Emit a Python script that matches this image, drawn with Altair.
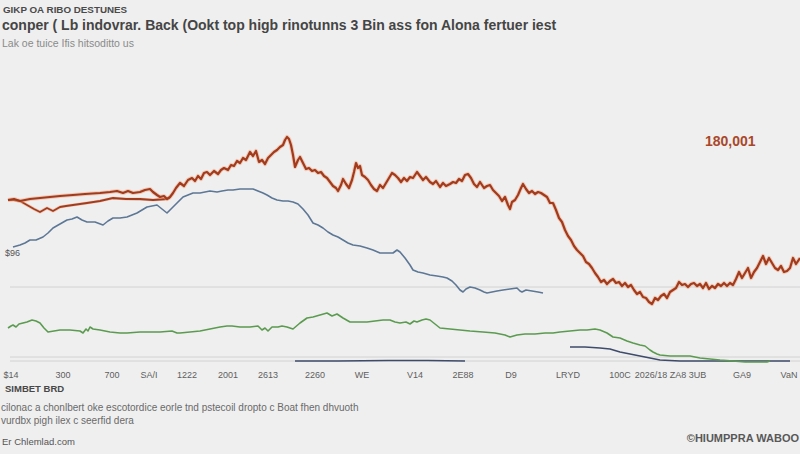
import altair as alt
import pandas as pd

# ---- series: (t, value) pairs -------------------------------------------
copper = [
    (0, 162), (6, 163), (12, 161), (22, 163), (32, 164), (42, 165), (52, 166), (65, 167),
    (77, 168), (92, 169), (102, 170), (109, 171), (115, 169), (120, 171), (125, 169),
    (132, 170), (137, 172), (142, 173), (145, 170), (149, 167), (152, 165), (156, 166),
    (159, 163), (162, 165), (165, 169), (168, 174), (172, 179), (176, 176), (180, 182),
    (184, 184), (187, 181), (190, 186), (193, 183), (196, 189), (199, 190), (202, 187),
    (206, 191), (210, 188), (213, 192), (216, 194), (220, 192), (223, 197), (226, 196),
    (229, 201), (232, 199), (235, 204), (238, 202), (242, 210), (245, 206), (248, 211),
    (251, 200), (254, 202), (257, 198), (260, 204), (263, 207), (266, 210), (269, 212),
    (272, 215), (275, 217), (277, 222), (279, 225), (281, 223), (283, 217), (285, 207),
    (287, 195), (290, 202), (292, 205), (295, 199), (298, 193), (301, 194), (304, 191),
    (307, 192), (310, 189), (313, 190), (316, 186), (319, 184), (322, 180), (325, 176),
    (328, 174), (330, 171), (333, 177), (335, 183), (338, 178), (341, 174), (344, 182),
    (346, 190), (348, 199), (350, 194), (352, 196), (354, 187), (357, 185), (360, 182),
    (363, 177), (366, 173), (369, 171), (372, 177), (375, 174), (378, 179), (381, 184),
    (384, 189), (387, 187), (390, 184), (393, 180), (396, 184), (399, 181), (402, 185),
    (405, 184), (409, 190), (412, 186), (415, 182), (418, 185), (422, 180), (425, 178),
    (428, 181), (432, 175), (435, 179), (438, 176), (442, 178), (445, 180), (448, 179),
    (451, 183), (454, 181), (457, 187), (460, 188), (463, 184), (466, 178), (469, 175),
    (472, 180), (476, 174), (479, 176), (482, 177), (485, 172), (488, 169), (491, 166),
    (494, 161), (497, 165), (500, 157), (502, 153), (504, 160), (507, 162), (510, 167),
    (513, 174), (515, 178), (518, 173), (521, 169), (524, 171), (527, 168), (530, 170),
    (533, 169), (536, 167), (539, 165), (542, 159), (545, 159), (548, 152), (551, 144),
    (554, 140), (557, 132), (560, 126), (563, 122), (566, 116), (569, 112), (572, 109),
    (575, 106), (578, 100), (581, 98), (584, 94), (587, 89), (590, 85), (593, 80),
    (596, 82), (599, 78), (602, 81), (605, 83), (608, 79), (611, 80), (614, 76), (617, 79),
    (620, 75), (623, 77), (626, 72), (629, 68), (632, 70), (635, 65), (638, 64), (641, 60),
    (644, 58), (647, 64), (650, 62), (653, 66), (656, 68), (659, 64), (662, 70), (665, 72),
    (668, 74), (671, 80), (674, 77), (677, 78), (680, 75), (683, 78), (686, 79), (689, 76),
    (692, 78), (695, 74), (698, 79), (701, 73), (704, 76), (707, 74), (710, 78), (713, 76),
    (716, 79), (719, 76), (722, 79), (725, 77), (728, 83), (731, 90), (734, 84), (737, 89),
    (740, 94), (743, 84), (746, 90), (749, 94), (752, 100), (755, 106), (758, 98),
    (761, 104), (764, 99), (767, 94), (770, 92), (773, 96), (776, 90), (779, 91),
    (782, 94), (785, 104), (788, 98), (792, 104),
]

copper_early = [
    (0, 162), (6, 162), (12, 161), (19, 157), (26, 153), (32, 150), (39, 154), (45, 151),
    (52, 155), (58, 156), (65, 157), (72, 158), (79, 159), (92, 161), (105, 164),
    (118, 163), (132, 163), (145, 162), (158, 163), (162, 164),
]

alloy = [
    (5, 115), (12, 117), (17, 119), (22, 122), (28, 122), (35, 125), (40, 129), (45, 134),
    (52, 138), (59, 142), (64, 143), (69, 145), (74, 142), (79, 140), (87, 140), (95, 137),
    (100, 141), (105, 144), (112, 144), (119, 145), (124, 147), (129, 149), (134, 152),
    (139, 155), (144, 156), (149, 157), (154, 153), (159, 149), (164, 154), (169, 159),
    (175, 165), (180, 167), (185, 169), (192, 169), (197, 170), (202, 171), (209, 170),
    (214, 171), (220, 172), (225, 172), (232, 173), (239, 173), (245, 173), (250, 171),
    (255, 169), (259, 167), (264, 164), (269, 162), (275, 161), (280, 161), (285, 160),
    (290, 158), (295, 153), (300, 147), (305, 139), (310, 137), (315, 134), (320, 130),
    (325, 127), (330, 125), (335, 122), (340, 119), (345, 117), (352, 116), (359, 114),
    (365, 112), (372, 109), (378, 109), (385, 109), (389, 112), (392, 110), (397, 104),
    (402, 97), (405, 92), (410, 90), (415, 89), (422, 87), (429, 86), (435, 85), (439, 84),
    (444, 81), (448, 77), (452, 72), (455, 70), (458, 73), (462, 75), (467, 74), (472, 72),
    (476, 70), (479, 69), (484, 70), (489, 71), (495, 72), (502, 73), (509, 74), (512, 71),
    (514, 70), (518, 72), (524, 71), (530, 70), (535, 69),
]

scrap = [
    (0, 34), (3, 36), (5, 37), (8, 35), (11, 38), (15, 39), (19, 40), (24, 42), (28, 41),
    (32, 39), (36, 34), (40, 30), (46, 31), (52, 32), (62, 32), (72, 31), (75, 29), (78, 33),
    (80, 31), (82, 35), (85, 33), (92, 32), (102, 30), (112, 29), (119, 29), (132, 30),
    (142, 30), (152, 30), (164, 31), (169, 29), (172, 29), (182, 30), (192, 31), (202, 33),
    (212, 35), (219, 36), (224, 36), (232, 35), (242, 35), (250, 36), (254, 32), (257, 34),
    (260, 31), (264, 35), (270, 35), (274, 36), (279, 35), (285, 33), (292, 39), (299, 44),
    (305, 45), (312, 47), (319, 49), (324, 46), (329, 48), (335, 44), (342, 40), (350, 40),
    (359, 40), (367, 41), (375, 42), (382, 42), (387, 40), (392, 39), (398, 40), (402, 38),
    (406, 41), (409, 40), (414, 42), (418, 43), (422, 42), (427, 38), (432, 34), (442, 33),
    (452, 32), (462, 31), (475, 30), (487, 29), (497, 27), (502, 25), (509, 27), (517, 28),
    (527, 28), (537, 29), (545, 29), (552, 30), (562, 31), (572, 32), (579, 32), (587, 33),
    (592, 32), (599, 29), (605, 25), (612, 24), (619, 21), (625, 19), (632, 17), (637, 16),
    (642, 12), (645, 10), (649, 8), (652, 7), (662, 6), (672, 6), (682, 6), (692, 4),
    (702, 3), (712, 2), (725, 1), (737, 0), (747, 0), (759, 0), (762, 1),
]

stock = [(287, 1), (330, 1), (380, 1.5), (420, 1.5), (457, 1)]

stock_late = [
    (562, 15), (577, 15), (592, 14), (602, 13), (612, 10), (622, 8), (632, 6), (642, 4),
    (652, 2), (672, 1), (692, 1), (742, 1), (782, 1),
]

benchmark = [(105, 163), (130, 162), (157, 162)]

grid_values = [1, 5, 75]

tick_pos = [3, 55, 104, 141, 179, 220, 260, 307, 354, 407, 455, 503, 560, 612, 643, 680, 734, 781]
tick_labels = ["$14", "300", "700", "SA/I", "1222", "2001", "2613", "2260", "WE", "V14",
               "2E88", "D9", "LRYD", "100C", "2026/18", "ZA8 3UB", "GA9", "VaN"]

FONT = "Liberation Sans"
W, H = 792, 300

x_scale = alt.Scale(domain=[0, 792], nice=False, zero=False)
y_scale = alt.Scale(domain=[0, 300], nice=False, zero=False)


def frame(points):
    return pd.DataFrame({"t": [p[0] for p in points], "v": [p[1] for p in points]})


def line(points, color, width, opacity=1.0):
    return alt.Chart(frame(points)).mark_line(
        color=color, strokeWidth=width, opacity=opacity, strokeJoin="round", clip=False
    ).encode(
        x=alt.X("t:Q", scale=x_scale, axis=None),
        y=alt.Y("v:Q", scale=y_scale, axis=None),
    )


def label(text, x, y, size, color, weight="normal", align="left"):
    return alt.Chart(pd.DataFrame({"s": [text]})).mark_text(
        align=align, baseline="middle", fontSize=size, fontWeight=weight,
        color=color, font=FONT, clip=False
    ).encode(x=alt.value(x), y=alt.value(y), text="s:N")


grid = alt.Chart(pd.DataFrame({"v": grid_values})).mark_rule(
    color="#d2d2d2", strokeWidth=1
).encode(y=alt.Y("v:Q", scale=y_scale, axis=None), x=alt.value(2), x2=alt.value(W))

ticks = alt.Chart(pd.DataFrame({"t": tick_pos, "s": tick_labels})).mark_text(
    align="center", baseline="middle", fontSize=9, color="#5e5e5e", font=FONT
).encode(x=alt.X("t:Q", scale=x_scale, axis=None), y=alt.value(313), text="s:N")

layers = [
    grid,
    line(benchmark, "#bdbdbd", 1.2),
    line(stock, "#3e4b6a", 1.5),
    line(stock_late, "#3e4b6a", 1.5),
    line(scrap, "#5b9b50", 1.6),
    line(alloy, "#5d7796", 1.6),
    line(copper_early, "#e9a47f", 3.2, 0.45),
    line(copper_early, "#a53b1d", 1.8),
    line(copper, "#eba27c", 4.2, 0.45),
    line(copper, "#a33a1c", 2.2),
    ticks,
    label("GIKP OA RIBO DESTUNES", -5, -52, 9.8, "#4a4a4a", "bold"),
    label("conper ( Lb indovrar. Back (Ookt top higb rinotunns 3 Bin ass fon Alona fertuer iest",
          -6, -36, 14, "#454545", "bold"),
    label("Lak oe tuice Ifis hitsoditto us", -6, -18, 10.5, "#8a8a8a"),
    label("$96", -3, 191, 9, "#555555"),
    label("180,001", 697, 80, 14, "#a9472a", "bold"),
    label("SIMBET BRD", -3, 327, 9.5, "#474747", "bold"),
    label("cilonac a chonlbert oke escotordice eorle tnd pstecoil dropto c Boat fhen dhvuoth",
          -7, 346, 10, "#6a6a6a"),
    label("vurdbx pigh ilex c seerfid dera", -7, 359, 10, "#6a6a6a"),
    label("Er Chlemlad.com", -6, 380, 9.5, "#555555"),
    label("\u00a9HIUMPPRA WABOO", 791, 377, 11, "#585858", "bold", align="right"),
]

chart = alt.layer(*layers).properties(
    width=W, height=H,
    background="#efefef",
    padding={"left": 8, "top": 62, "right": 0, "bottom": 92},
    autosize=alt.AutoSizeParams(type="none"),
).configure_view(stroke=None)

chart.save("out.html", embed_options={"renderer": "svg", "actions": False})
